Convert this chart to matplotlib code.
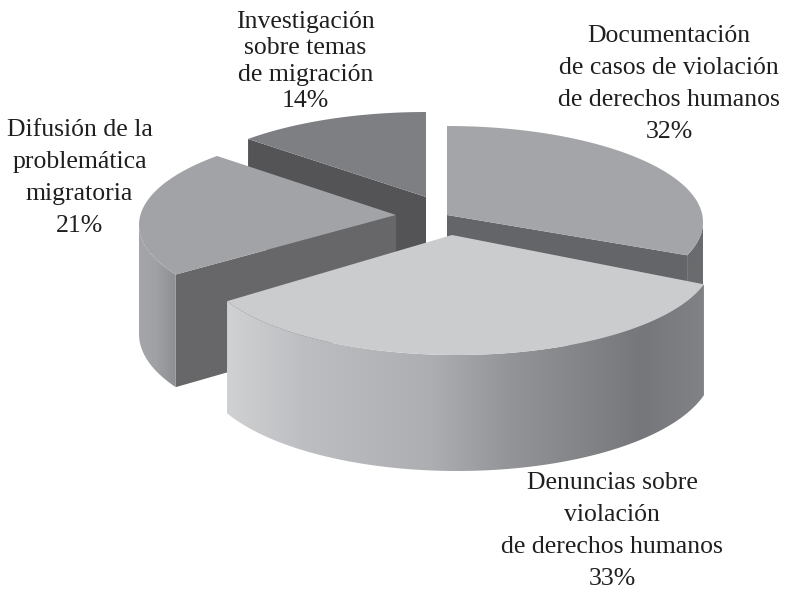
import matplotlib
matplotlib.use("Agg")
import matplotlib.pyplot as plt
from matplotlib.colors import LinearSegmentedColormap
from matplotlib.patches import Polygon
import numpy as np

plt.rcParams["font.family"] = ["Liberation Serif", "DejaVu Serif"]

# datos
labels = [
    "Documentación\nde casos de violación\nde derechos humanos",
    "Denuncias sobre\nviolación\nde derechos humanos",
    "Difusión de la\nproblemática\nmigratoria",
    "Investigación\nsobre temas\nde migración",
]
shares = [32, 33, 21, 14]

# geometria de cada porcion en pixeles
centers = [(447, 222), (457, 259), (395, 225), (426, 208)]
apexes = [(447, 215), (452, 235), (396, 215), (426, 197)]
nudges = [(0, -6), (-1, 0), (5, 2), (2, 0)]
cut_side = ["end", None, "start", "start"]
top_colors = ["#a4a5a8", "#cbccce", "#a2a3a6", "#7e7f83"]
cut_colors = ["#646568", None, "#676769", "#545456"]
rim_colors = [
    [(0, "#6a6b6e"), (1, "#6a6b6e")],
    [(0, "#d0d1d3"), (0.16, "#bdbec1"), (0.43, "#adaeb1"), (0.58, "#959699"),
     (0.87, "#76777a"), (1, "#818286")],
    [(0, "#a5a6a9"), (0.45, "#a0a1a4"), (1, "#8e8f92")],
    None,
]
# ancla: linea base del ultimo renglon
label_pos = [(669, 138), (612, 585), (79.5, 232), (305.5, 107)]
label_gap = [1.59, 1.59, 1.59, 1.26]

RX, RY, DEPTH = 256, 96, 109
RY_LOW = 103
PERSP = 0.2


def true_to_screen(theta):
    # la perspectiva desplaza el centro del circulo hacia atras
    x, y = np.cos(np.radians(theta)), np.sin(np.radians(theta))
    den = 1 + PERSP * y
    u = x * np.sqrt(1 - PERSP ** 2) / den
    v = (y + PERSP) / den
    t = np.degrees(np.arctan2(v, u))
    # misma vuelta que theta
    return t + 360 * np.round((theta - t) / 360)


def rim(center, t0, t1, ry=RY, dy=0):
    t = np.radians(np.linspace(t0, t1, 120))
    return np.column_stack([center[0] + RX * np.cos(t),
                            center[1] + dy - ry * np.sin(t)])


def point(center, t, ry=RY, dy=0):
    return rim(center, t, t, ry, dy)[0]


fig = plt.figure(figsize=(7.85, 5.91), dpi=100)
ax = fig.add_axes([0, 0, 1, 1])
ax.set_xlim(0, 785)
ax.set_ylim(591, 0)
ax.axis("off")

edges = 90 - np.concatenate([[0], np.cumsum(shares)]) * 3.6

for z, i in enumerate([3, 0, 2, 1]):
    c, apex = centers[i], apexes[i]
    t0 = true_to_screen(edges[i]) + nudges[i][0]
    t1 = true_to_screen(edges[i + 1]) + nudges[i][1]
    base = z * 10 + 1

    # cara del corte
    if cut_side[i]:
        t = t1 if cut_side[i] == "end" else t0
        tip = point(c, t)
        face = [apex, tip, point(c, t, RY_LOW, DEPTH), (apex[0], apex[1] + DEPTH)]
        ax.add_patch(Polygon(face, fc=cut_colors[i], ec="none", zorder=base))

    # costado curvo, solo la parte de enfrente
    if rim_colors[i]:
        a, b = min(t0, 0), min(t1, 0)
        a, b = max(a, -180), max(b, -180)
        pts = np.vstack([rim(c, a, b), rim(c, b, a, RY_LOW, DEPTH)])
        side = Polygon(pts, fc="none", ec="none", zorder=base + 1)
        ax.add_patch(side)
        cmap = LinearSegmentedColormap.from_list(f"rim{i}", rim_colors[i])
        im = ax.imshow(np.linspace(0, 1, 256)[None, :], cmap=cmap, aspect="auto",
                       extent=[pts[:, 0].min(), pts[:, 0].max(), pts[:, 1].max(), pts[:, 1].min()],
                       zorder=base + 1, interpolation="bilinear")
        im.set_clip_path(side)

    # cara superior
    top = np.vstack([[apex], rim(c, t0, t1)])
    ax.add_patch(Polygon(top, fc=top_colors[i], ec="none", zorder=base + 2))

ax.set_xlim(0, 785)
ax.set_ylim(591, 0)

for name, val, pos, gap in zip(labels, shares, label_pos, label_gap):
    ax.text(pos[0], pos[1], f"{name}\n{val}%", ha="center", va="baseline", fontsize=18.5,
            linespacing=gap, color="#1f1f1f", zorder=100)

fig.savefig("out.png", dpi=100)
plt.close(fig)
